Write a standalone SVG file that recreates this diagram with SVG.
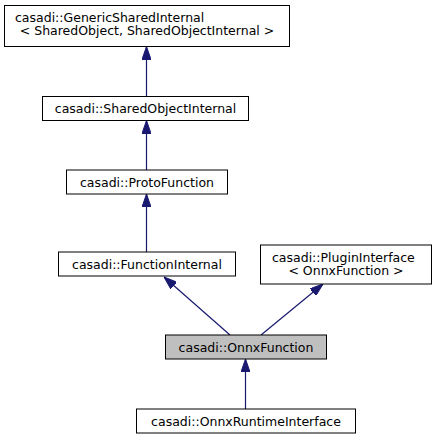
<svg xmlns="http://www.w3.org/2000/svg" width="437" height="440" viewBox="0 0 437 440">
<style>
.n rect{fill:#ffffff;stroke:#000000;stroke-width:1}
.n.cur rect{fill:#bfbfbf}
.n text{font-family:"DejaVu Sans",sans-serif;font-size:12.5px;fill:#000000}
.m{text-anchor:middle}
.e line{stroke:#191970;stroke-width:1.2;fill:none;marker-end:url(#ah)}
</style>
<defs>
<marker id="ah" viewBox="0 0 13 9" refX="13" refY="4.5" markerWidth="13" markerHeight="9" markerUnits="userSpaceOnUse" orient="auto">
<path d="M0,0 L13,4.5 L0,9 Z" fill="#191970" stroke="#191970" stroke-width="1"/>
</marker>
</defs>
<rect width="437" height="440" fill="#ffffff"/>
<g id="edges" class="e">
<line x1="146.5" y1="96.5" x2="146.5" y2="46.5"/>
<line x1="146.5" y1="170" x2="146.5" y2="120.5"/>
<line x1="146.5" y1="252" x2="146.5" y2="194"/>
<line x1="230" y1="335" x2="164" y2="277"/>
<line x1="261" y1="335" x2="323" y2="284"/>
<line x1="245.5" y1="409" x2="245.5" y2="359"/>
</g>
<g id="node1" class="n">
<rect x="4.5" y="5.5" width="285" height="41"/>
<text x="15" y="21.5">casadi::GenericSharedInternal</text>
<text class="m" x="147" y="35">&lt; SharedObject, SharedObjectInternal &gt;</text>
</g>
<g id="node2" class="n">
<rect x="42.5" y="96.5" width="206" height="24"/>
<text class="m" x="145.5" y="113">casadi::SharedObjectInternal</text>
</g>
<g id="node3" class="n">
<rect x="66.5" y="170" width="161" height="24"/>
<text class="m" x="147" y="186.5">casadi::ProtoFunction</text>
</g>
<g id="node4" class="n">
<rect x="58.5" y="252" width="177" height="24"/>
<text class="m" x="147" y="268.5">casadi::FunctionInternal</text>
</g>
<g id="node5" class="n">
<rect x="260.5" y="245" width="171" height="39"/>
<text x="272" y="261.5">casadi::PluginInterface</text>
<text class="m" x="346" y="275">&lt; OnnxFunction &gt;</text>
</g>
<g id="node6" class="n cur">
<rect x="165.5" y="335" width="161" height="24"/>
<text class="m" x="246" y="351.5">casadi::OnnxFunction</text>
</g>
<g id="node7" class="n">
<rect x="136.5" y="409" width="219" height="24"/>
<text class="m" x="246" y="425.5">casadi::OnnxRuntimeInterface</text>
</g>
</svg>
